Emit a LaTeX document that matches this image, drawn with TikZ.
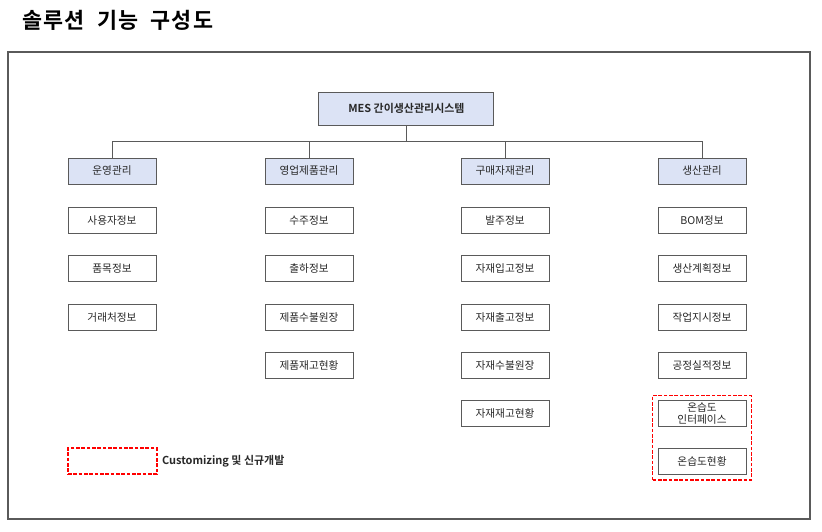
\documentclass[tikz,border=0pt]{standalone}
\usepackage{fontspec}
\usepackage{xcolor}
\usepackage{tikz}
\usetikzlibrary{positioning,calc,fit}
\newfontfamily\krfont{Noto Sans CJK KR}
\newfontfamily\krbold{Noto Sans CJK KR Bold}
\newfontfamily\krtitle[LetterSpace=6]{Noto Sans CJK KR Bold}
\newcommand\titlefont{\krtitle\fontsize{15.5}{17}\selectfont\spaceskip=0.55em\relax}
\definecolor{grpfill}{RGB}{220,227,245}
\definecolor{linegray}{RGB}{90,90,90}
\definecolor{txtgray}{RGB}{40,40,40}
\tikzset{
  sysbox/.style={draw=linegray, fill=grpfill, line width=0.7pt, minimum width=4.375cm,
                 minimum height=0.825cm, font=\krbold\fontsize{7.8}{9}\selectfont, text=txtgray},
  grpbox/.style={draw=linegray, fill=grpfill, line width=0.7pt, minimum width=2.2cm,
                 minimum height=0.65cm, font=\krfont\fontsize{7.6}{9}\selectfont, text=txtgray},
  itembox/.style={draw=linegray, fill=white, line width=0.7pt, minimum width=2.2cm,
                  minimum height=0.65cm, font=\krfont\fontsize{7.6}{9}\selectfont, text=txtgray,
                  align=center, inner sep=0pt},
  custbox/.style={draw=red, dash pattern=on 2.6pt off 1.2pt, line width=1.1pt},
  wire/.style={draw=linegray, line width=0.7pt}
}
\begin{document}
\begin{tikzpicture}
    \useasboundingbox (0,0) rectangle (20.55,-13.275);
    \def\xA{2.8} \def\xB{7.725} \def\xC{12.625} \def\xD{17.55}

    % title and frame
    \node[anchor=west, inner sep=0pt, font=\titlefont] (title)
      at (0.55,-0.5) {솔루션 기능 구성도};
    \draw[draw=linegray, line width=0.8pt] (0.2,-1.3) rectangle (20.25,-12.975);

    % system and groups
    \node[sysbox] (sys) at (10.16,-2.7125) {MES 간이생산관리시스템};
    \coordinate (bus) at (10.16,-3.54);
    \node[grpbox] (A) at (\xA,-4.275) {운영관리};
    \node[grpbox] (B) at (\xB,-4.275) {영업제품관리};
    \node[grpbox] (C) at (\xC,-4.275) {구매자재관리};
    \node[grpbox] (D) at (\xD,-4.275) {생산관리};

    \draw[wire] (sys.south) -- (bus);
    \draw[wire] (A.north) |- (bus);
    \draw[wire] (B.north) |- (bus);
    \draw[wire] (C.north) |- (bus);
    \draw[wire] (D.north) |- (bus);

    % 운영관리
    \node[itembox] (A1) at (\xA,-5.5125) {사용자정보};
    \node[itembox] (A2) at (\xA,-6.72) {품목정보};
    \node[itembox] (A3) at (\xA,-7.925) {거래처정보};

    % 영업제품관리
    \node[itembox] (B1) at (\xB,-5.5125) {수주정보};
    \node[itembox] (B2) at (\xB,-6.72) {출하정보};
    \node[itembox] (B3) at (\xB,-7.925) {제품수불원장};
    \node[itembox] (B4) at (\xB,-9.13) {제품재고현황};

    % 구매자재관리
    \node[itembox] (C1) at (\xC,-5.5125) {발주정보};
    \node[itembox] (C2) at (\xC,-6.72) {자재입고정보};
    \node[itembox] (C3) at (\xC,-7.925) {자재출고정보};
    \node[itembox] (C4) at (\xC,-9.13) {자재수불원장};
    \node[itembox] (C5) at (\xC,-10.34) {자재재고현황};

    % 생산관리
    \node[itembox] (D1) at (\xD,-5.5125) {BOM정보};
    \node[itembox] (D2) at (\xD,-6.72) {생산계획정보};
    \node[itembox] (D3) at (\xD,-7.925) {작업지시정보};
    \node[itembox] (D4) at (\xD,-9.13) {공정실적정보};
    \node[itembox, font=\krfont\fontsize{7.6}{8.6}\selectfont] (D5) at (\xD,-10.34) {온습도\\인터페이스};
    \node[itembox] (D6) at (\xD,-11.54) {온습도현황};
    \node[custbox, fit=(D5)(D6), inner sep=0.12cm] (cust) {};

    % legend
    \node[custbox, minimum width=2.225cm, minimum height=0.65cm] (key) at (2.8125,-11.525) {};
    \node[right=0.1cm of key, inner sep=0pt, font=\krbold\fontsize{7.8}{9}\selectfont, text=txtgray]
      (keytxt) {Customizing 및 신규개발};
  \end{tikzpicture}
\end{document}
